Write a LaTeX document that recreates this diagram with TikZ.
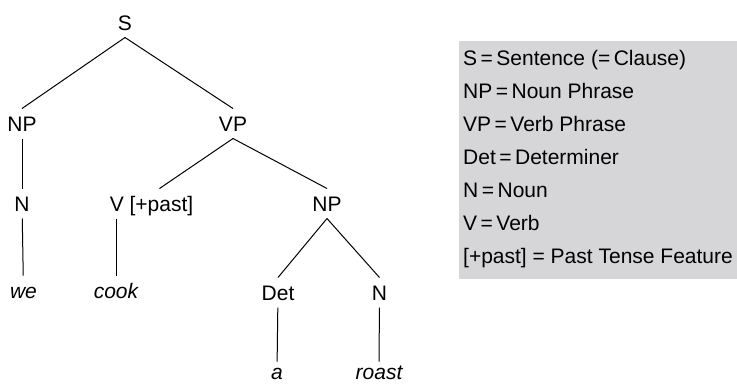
\documentclass[tikz,border=0pt]{standalone}
\usepackage{fontspec}
\setmainfont{Liberation Sans}
\usepackage{xcolor}
\usepackage{tikz}
\definecolor{legendgray}{RGB}{214,214,216}

\begin{document}
\begin{tikzpicture}[x=1bp, y=-1bp, line width=1bp,
    every node/.style={font=\fontsize{21bp}{33bp}\selectfont},
    cat/.style={text height=15bp, text depth=0pt, inner ysep=7bp, inner xsep=3bp},
    word/.style={cat, font=\fontsize{21bp}{33bp}\selectfont\itshape}]
    \useasboundingbox (0,0) rectangle (737,383);

    % the tree
    \node [cat] (s) at (125,22.5){S};
    \node [cat] (np) at (22,123.5){NP};
    \node [cat] (vp) at (233,123.5){VP};
    \node [cat] (n) at (22,203.5){N};
    \node [cat] (v) at (151.5,203.5){V [+past]};
    \node [cat] (np2) at (327,203.5){NP};
    \node [word] (we) at (23.5,290.5){we};
    \node [word] (cook) at (116,290.5){cook};
    \node [cat] (det) at (278,292.5){Det};
    \node [cat] (n2) at (379.5,292.5){N};
    \node [word, inner ysep=2bp] (a) at (277,371.5){a};
    \node [word, inner ysep=2bp] (roast) at (379,371.5){roast};

    \draw (s.south) -- (np.north);
    \draw (s.south) -- (vp.north);
    \draw (np) -- (n);
    \draw (n) -- (we);
    \draw (vp.south) -- ([xshift=8bp]v.north);
    \draw (vp.south) -- (np2.north);
    \draw (v.south -| cook) -- (cook);
    \draw (np2.south) -- (det.north);
    \draw (np2.south) -- (n2.north);
    \draw (det) -- (a);
    \draw (n2) -- (roast);

    % the legend
    \node [anchor=north west, fill=legendgray, minimum width=279bp, minimum height=238bp,
        align=left, inner xsep=2bp] (legend) at (458,40)
        {S\,=\,Sentence (=\,Clause)\\
         NP\,=\,Noun Phrase\\
         VP\,=\,Verb Phrase\\
         Det\,=\,Determiner\\
         N\,=\,Noun\\
         V\,=\,Verb\\
         {[+past]} = Past Tense Feature};
\end{tikzpicture}
\end{document}
